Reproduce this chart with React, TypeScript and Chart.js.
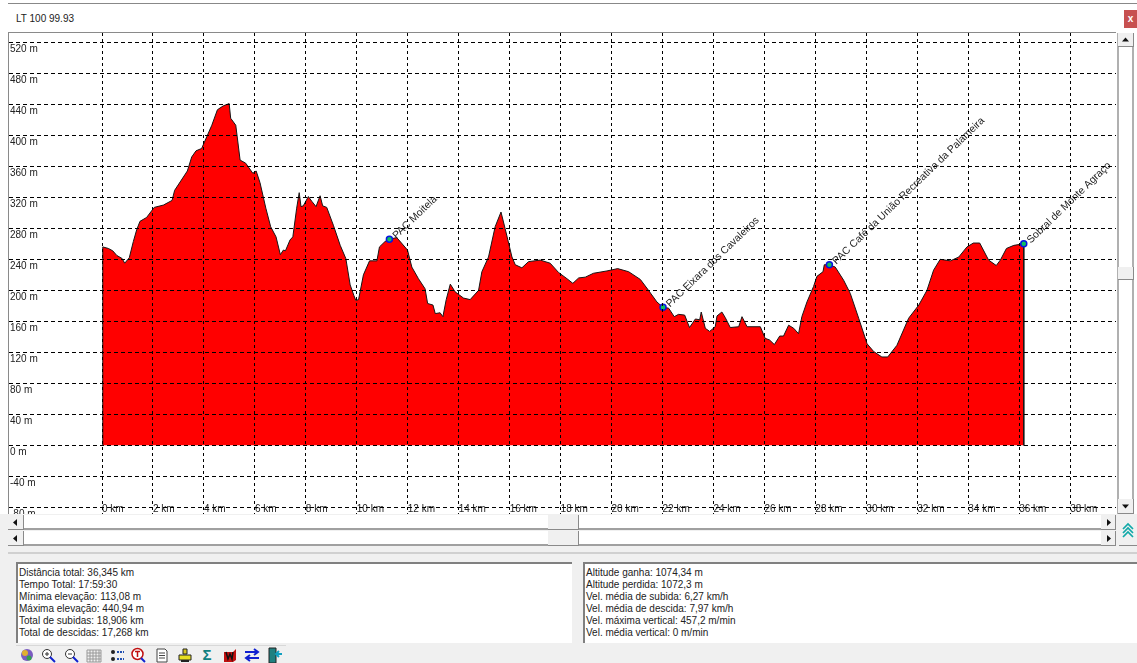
import React, { useEffect, useRef } from "react";
import { Chart, registerables } from "chart.js";

Chart.register(...registerables);

const TITLE = "LT 100 99.93";
const distanceKm = [0, 0.03, 0.25, 0.42, 0.58, 0.79, 0.89, 1.07, 1.23, 1.36, 1.49, 1.75, 2.05, 2.41, 2.75, 2.85, 3.09, 3.35, 3.52, 3.69, 3.91, 4.11, 4.31, 4.53, 4.76, 4.99, 5.05, 5.25, 5.42, 5.64, 5.92, 6.05, 6.2, 6.43, 6.62, 6.83, 7.0, 7.12, 7.2, 7.38, 7.49, 7.64, 7.74, 7.81, 7.9, 8.1, 8.23, 8.4, 8.56, 8.66, 8.82, 9.08, 9.35, 9.57, 9.74, 9.89, 9.96, 10.07, 10.26, 10.5, 10.79, 10.89, 11.11, 11.28, 11.57, 11.99, 12.16, 12.42, 12.68, 12.78, 12.99, 13.08, 13.27, 13.38, 13.51, 13.67, 13.86, 14.19, 14.45, 14.78, 14.91, 15.17, 15.43, 15.66, 15.82, 16.09, 16.22, 16.48, 16.74, 17.2, 17.59, 17.92, 18.25, 18.48, 18.71, 18.97, 19.29, 19.82, 20.24, 20.67, 21.13, 21.45, 21.78, 22.02, 22.24, 22.46, 22.63, 22.87, 23.06, 23.29, 23.46, 23.52, 23.68, 23.85, 24.07, 24.14, 24.33, 24.46, 24.66, 24.99, 25.12, 25.32, 25.84, 26.03, 26.2, 26.39, 26.6, 26.75, 26.95, 27.15, 27.34, 27.47, 27.67, 27.93, 28.06, 28.3, 28.35, 28.55, 28.78, 29.11, 29.37, 29.7, 30.03, 30.29, 30.61, 30.84, 31.2, 31.66, 32.06, 32.38, 32.64, 32.9, 33.3, 33.63, 33.95, 34.2, 34.45, 34.8, 35.1, 35.26, 35.5, 35.79, 36.18, 36.18];
const elevationM = [0, 256, 254, 251, 245, 241, 235, 242, 263, 278, 289, 294, 307, 310, 316, 329, 341, 354, 372, 380, 383, 398, 413, 433, 438, 440.9, 422, 413, 368, 364, 351, 354, 339, 306, 282, 269, 246, 252, 251, 265, 269, 306, 326, 308, 309, 321, 315, 308, 322, 309, 307, 284, 258, 241, 207, 193, 187, 188, 220, 238, 238, 256, 263, 266, 268, 252, 230, 215, 202, 183, 181, 170, 171, 166, 188, 208, 198, 190, 188, 200, 224, 243, 282, 301, 280, 243, 233, 229, 237, 239, 235, 223, 215, 209, 216, 217, 222, 225, 228, 224, 214, 200, 185, 178, 177, 166, 169, 168, 152, 163, 162, 172, 151, 147, 153, 167, 172, 165, 152, 153, 166, 153, 153, 138, 136, 130, 141, 141, 155, 151, 144, 166, 185, 205, 218, 224, 233, 233, 230, 213, 196, 164, 131, 121, 114, 114, 129, 164, 181, 200, 226, 240, 238, 243, 256, 261, 261, 239, 232, 239, 254, 258, 260, 0];

const waypointNames = ["PAC Moitela", "PAC Eixara dos Cavaleiros", "PAC Café da União Recreativa da Palameira", "Sobral de Monte Agraço"];
const waypointKm = [11.28, 22.02, 28.55, 36.18];
const waypointM = [266, 178, 233, 260];

const xTicks = [0, 2, 4, 6, 8, 10, 12, 14, 16, 18, 20, 22, 24, 26, 28, 30, 32, 34, 36, 38];
const yTicks = [520, 480, 440, 400, 360, 320, 280, 240, 200, 160, 120, 80, 40, 0, -40, -80];

const statsLeft = ["Distância total: 36,345 km", "Tempo Total: 17:59:30", "Mínima elevação: 113,08 m", "Máxima elevação: 440,94 m", "Total de subidas: 18,906 km", "Total de descidas: 17,268 km"];
const statsRight = ["Altitude ganha: 1074,34 m", "Altitude perdida: 1072,3 m", "Vel. média de subida: 6,27 km/h", "Vel. média de descida: 7,97 km/h", "Vel. máxima vertical: 457,2 m/min", "Vel. média vertical: 0 m/min"];

const FONT = '"Liberation Sans", Arial, sans-serif';

const waypointLabels = {
  id: "waypointLabels",
  afterDatasetsDraw(chart: any) {
    const { ctx, scales, chartArea } = chart;
    ctx.save();
    ctx.beginPath();
    ctx.rect(chartArea.left, chartArea.top, chartArea.width, chartArea.height);
    ctx.clip();
    ctx.font = `10.4px ${FONT}`;
    ctx.fillStyle = "#222";
    ctx.textBaseline = "middle";
    waypointNames.forEach((name, i) => {
      const px = scales.x.getPixelForValue(waypointKm[i]);
      const py = scales.y.getPixelForValue(waypointM[i]);
      ctx.save();
      ctx.translate(px + 5, py - 2);
      ctx.rotate((-44 * Math.PI) / 180);
      ctx.fillText(name, 0, 0);
      ctx.restore();
    });
    ctx.restore();
  },
};

function Box(p: { x: number; y: number; w: number; h: number; style?: React.CSSProperties; children?: React.ReactNode }) {
  return <div style={{ position: "absolute", left: p.x, top: p.y, width: p.w, height: p.h, boxSizing: "border-box", ...p.style }}>{p.children}</div>;
}

const btn: React.CSSProperties = { background: "#f0f0f0", borderRight: "1px solid #8a8a8a", borderBottom: "1px solid #8a8a8a", display: "flex", alignItems: "center", justifyContent: "center" };

function Tri({ dir }: { dir: "l" | "r" | "u" | "d" }) {
  const pts = { l: "6,1 2,4.5 6,8", r: "3,1 7,4.5 3,8", u: "1,6.5 4.5,2.5 8,6.5", d: "1,2.5 4.5,6.5 8,2.5" }[dir];
  return <svg width={9} height={9}><polygon points={pts} fill="#111" /></svg>;
}

function HBar({ y }: { y: number }) {
  return (
    <>
      <Box x={8} y={y} w={1108} h={15} style={{ background: "#fff", borderBottom: "2px solid #a0a0a0" }} />
      <Box x={8} y={y} w={16} h={15} style={btn}><Tri dir="l" /></Box>
      <Box x={548} y={y} w={31} h={15} style={btn} />
      <Box x={1101} y={y} w={15} h={15} style={btn}><Tri dir="r" /></Box>
    </>
  );
}

function StatBox({ x, w, lines }: { x: number; w: number; lines: string[] }) {
  return (
    <Box x={x} y={562} w={w} h={81} style={{ background: "#fff", borderTop: "2px solid #808080", borderLeft: "2px solid #808080", padding: "3px 0 0 1px", font: `10px/12.1px ${FONT}`, color: "#222" }}>
      {lines.map((l) => <div key={l} style={{ whiteSpace: "nowrap" }}>{l}</div>)}
    </Box>
  );
}

const icons: [number, React.ReactNode][] = [
  [27, <><circle cx="8" cy="8" r="6" fill="#7a5cc0" /><circle cx="6" cy="6" r="3" fill="#e0b030" /><circle cx="10" cy="11" r="2.5" fill="#30a050" /></>],
  [48, <><circle cx="7" cy="7" r="4.5" fill="#fff" stroke="#333" /><path d="M5 7h4M7 5v4" stroke="#333" /><path d="M10 10l5 5" stroke="#1020d0" strokeWidth="2" /></>],
  [71, <><circle cx="7" cy="7" r="4.5" fill="#fff" stroke="#333" /><path d="M5 7h4" stroke="#333" /><path d="M10 10l5 5" stroke="#1020d0" strokeWidth="2" /></>],
  [94, <path d="M1 3h14v12H1zM1 6h14M1 9h14M1 12h14M4 3v12M7 3v12M10 3v12M13 3v12" fill="none" stroke="#999" />],
  [117, <><circle cx="4" cy="5" r="2" fill="#222" /><circle cx="4" cy="12" r="2" fill="#222" /><path d="M8 5h7" stroke="#2050b0" strokeWidth="2" strokeDasharray="2 1" /><path d="M8 12h7" stroke="#2050b0" strokeWidth="2" strokeDasharray="2 1" /></>],
  [138, <><circle cx="7.5" cy="7" r="5.5" fill="#fff" stroke="#c01010" strokeWidth="1.5" /><path d="M5 4.5h5M7.5 4.5v5.5" stroke="#c01010" strokeWidth="1.5" /><path d="M11 11l4 4" stroke="#1020d0" strokeWidth="2" /></>],
  [162, <><path d="M3 2h8l2 2v11H3z" fill="#fff" stroke="#444" /><path d="M5 6h6M5 8.5h6M5 11h6" stroke="#444" /></>],
  [185, <><path d="M6 2h4v5H6z" fill="#d8c820" stroke="#222" /><path d="M2 8h12v5H2z" fill="#e8e020" stroke="#222" /><path d="M4 14h8" stroke="#222" strokeWidth="2" /></>],
  [229, <><path d="M3 5h9l3 -3v11l-3 2H3z" fill="#c01010" /><path d="M5 5l2 7 2-5 2 5 1-7" fill="none" stroke="#111" strokeWidth="1.5" /></>],
  [252, <><path d="M1 5h12M10 2l4 3-4 3" fill="none" stroke="#1020d0" strokeWidth="2" /><path d="M15 11H3M6 8l-4 3 4 3" fill="none" stroke="#1020d0" strokeWidth="2" /></>],
  [275, <><path d="M2 1h7v15H2z" fill="#208080" stroke="#222" /><path d="M15 7h-5M12 4l-3 3 3 3" fill="none" stroke="#10a0c0" strokeWidth="2" /></>],
];

const noPadding = (a: any) => {
  a.paddingLeft = 0;
  a.paddingRight = 0;
  a.paddingTop = 0;
  a.paddingBottom = 0;
};

export default function App() {
  const ref = useRef<HTMLCanvasElement>(null);

  useEffect(() => {
    const chart = new Chart(ref.current as HTMLCanvasElement, {
      type: "scatter",
      data: {
        datasets: [
          {
            label: "Waypoints",
            data: waypointKm.map((x, i) => ({ x, y: waypointM[i] })),
            pointRadius: 3,
            pointBorderWidth: 1.5,
            pointBorderColor: "#0a14e0",
            pointBackgroundColor: "#10c060",
            showLine: false,
            order: 0,
          },
          {
            label: "Altitude",
            data: distanceKm.map((x, i) => ({ x, y: elevationM[i] })),
            showLine: true,
            borderColor: "#151515",
            borderWidth: 1,
            backgroundColor: "#ff0000",
            fill: "origin",
            pointRadius: 0,
            tension: 0,
            order: 1,
          },
        ],
      },
      options: {
        responsive: false,
        animation: false,
        layout: { padding: 0, autoPadding: false },
        plugins: { legend: { display: false }, tooltip: { enabled: false }, title: { display: false } },
        scales: {
          x: {
            type: "linear",
            min: -3.651,
            max: 39.8,
            afterBuildTicks: (a: any) => { a.ticks = xTicks.map((value) => ({ value })); },
            afterFit: (a: any) => { a.height = 0; noPadding(a); },
            border: { display: false, dash: [3, 3] },
            grid: { color: "#000", lineWidth: 1, z: 1, drawTicks: false },
            ticks: {
              mirror: true,
              align: "start",
              padding: -1,
              maxRotation: 0,
              autoSkip: false,
              color: "#222",
              font: { family: FONT, size: 10 },
              callback: (v: any) => `${v} km`,
            },
          },
          y: {
            type: "linear",
            min: -88.6,
            max: 532,
            afterBuildTicks: (a: any) => { a.ticks = yTicks.map((value) => ({ value })); },
            afterFit: (a: any) => { a.width = 0; noPadding(a); },
            border: { display: false, dash: [4, 3] },
            grid: { color: "#000", lineWidth: 1, z: 1, drawTicks: false },
            ticks: {
              mirror: true,
              align: "start",
              padding: 1,
              labelOffset: 2,
              autoSkip: false,
              color: "#222",
              font: { family: FONT, size: 10 },
              callback: (v: any) => `${v} m`,
            },
          },
        },
      },
      plugins: [waypointLabels],
    } as any);
    return () => chart.destroy();
  }, []);

  return (
    <div style={{ position: "fixed", left: 0, top: 0, width: 1137, height: 663, background: "#fff", overflow: "hidden", font: `10px ${FONT}` }}>
      <Box x={8} y={3} w={1129} h={1} style={{ background: "#888" }} />
      <Box x={16} y={12} w={200} h={14} style={{ font: `10px/14px ${FONT}`, color: "#222" }}>{TITLE}</Box>
      <Box x={1124} y={10} w={13} h={18} style={{ background: "#c75050", color: "#fff", font: `bold 10px/18px ${FONT}`, textAlign: "center" }}>x</Box>

      <Box x={8} y={32} w={1108} h={1} style={{ background: "#8a8a8a" }} />
      <Box x={8} y={32} w={1} h={482} style={{ background: "#8a8a8a" }} />
      <canvas ref={ref} width={1107} height={481} style={{ position: "absolute", left: 9, top: 33, width: 1107, height: 481, display: "block" }} />

      <Box x={1117} y={33} w={17} h={481} style={{ background: "#fff", borderLeft: "2px solid #b0b0b0", borderRight: "2px solid #b0b0b0" }} />
      <Box x={1118} y={33} w={16} h={14} style={btn}><Tri dir="u" /></Box>
      <Box x={1118} y={267} w={16} h={13} style={btn} />
      <Box x={1118} y={499} w={16} h={15} style={btn}><Tri dir="d" /></Box>

      <Box x={0} y={514} w={1137} h={149} style={{ background: "#f0f0f0" }} />
      <HBar y={515} />
      <HBar y={531} />
      <Box x={1119} y={515} w={18} h={31} style={{ ...btn, borderRight: "none" }}>
        <svg width={14} height={16}><path d="M2 7l5-5 5 5M2 11l5-5 5 5M2 15l5-5 5 5" fill="none" stroke="#10a8a8" strokeWidth="1.7" /></svg>
      </Box>
      <Box x={8} y={552} w={1129} h={2} style={{ background: "#d0d0d0" }} />

      <StatBox x={16} w={556} lines={statsLeft} />
      <StatBox x={583} w={554} lines={statsRight} />

      <Box x={0} y={644} w={1137} h={19} style={{ background: "#f0f0f0" }} />
      <Box x={16} y={645} w={270} h={18} style={{ borderTop: "1px solid #d8d8d8" }} />
      {icons.map(([x, node]) => (
        <svg key={x} width={16} height={16} style={{ position: "absolute", left: x - 8, top: 647 }}>{node}</svg>
      ))}
      <Box x={200} y={647} w={14} h={16} style={{ color: "#108080", font: `bold 15px/16px ${FONT}`, textAlign: "center" }}>Σ</Box>
    </div>
  );
}
